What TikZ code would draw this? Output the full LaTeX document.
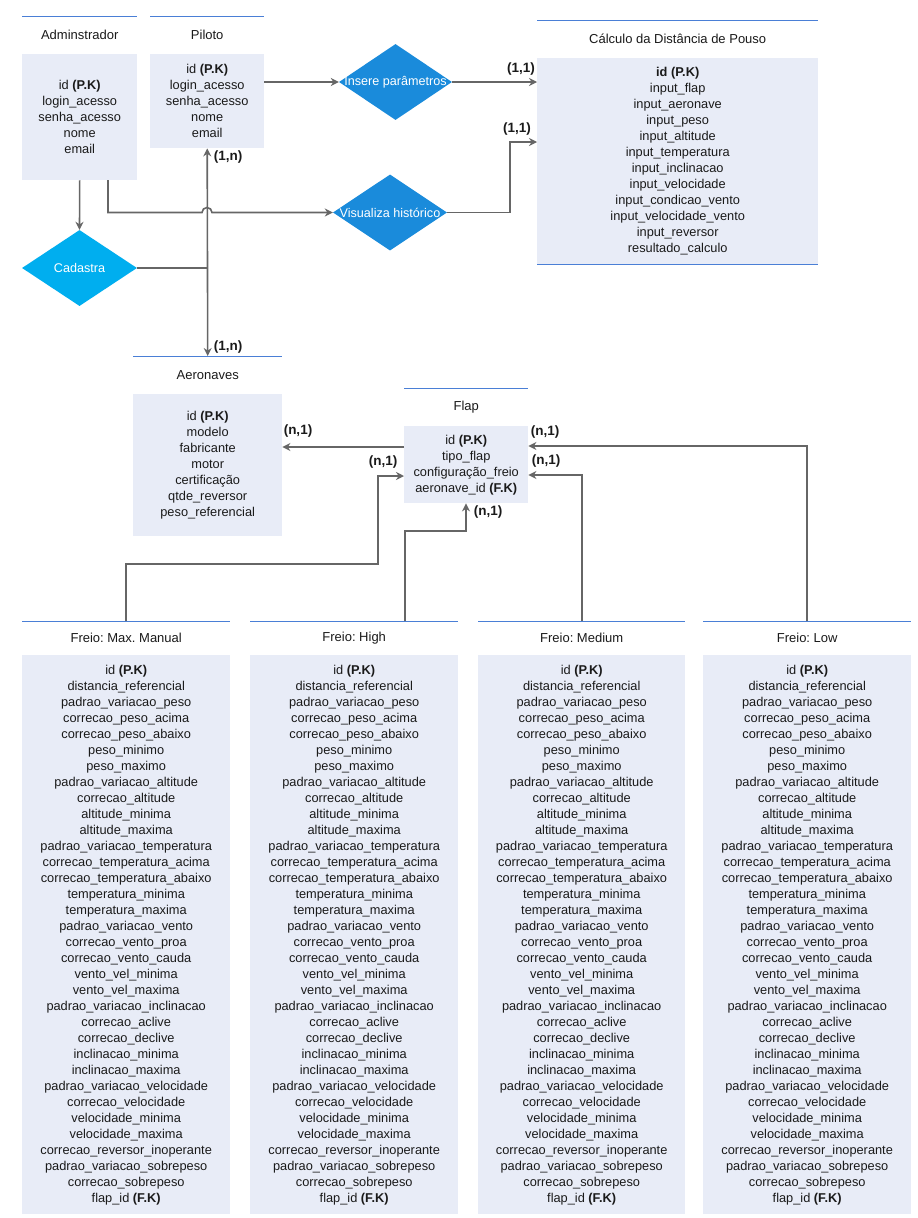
\documentclass[tikz,border=0pt]{standalone}
\usepackage{fontspec}
\setmainfont{Liberation Sans}
\usetikzlibrary{shapes.geometric,arrows.meta}
\frenchspacing
\definecolor{bodyfill}{HTML}{E8ECF7}
\definecolor{hdrline}{HTML}{4A7FD6}
\definecolor{connc}{HTML}{666666}
\definecolor{diamA}{HTML}{1A8BDB}
\definecolor{diamB}{HTML}{00AEEF}
\definecolor{txtc}{HTML}{1A1A1A}
\tikzset{
  every node/.style={font=\fontsize{12.8}{16}\selectfont, text=txtc},
  bodybox/.style={fill=bodyfill, draw=none, anchor=north west, inner sep=0pt, align=center},
  titlebox/.style={draw=none, anchor=north west, inner sep=0pt, align=center, font=\fontsize{13}{16}\selectfont},
  conn/.style={draw=connc, line width=1.6pt, -{Stealth[length=8pt,width=8pt]}},
  plainconn/.style={draw=connc, line width=1.6pt},
  hline/.style={draw=hdrline, line width=1pt},
  relA/.style={shape=diamond, fill=diamA, draw=none, inner sep=0pt},
  relB/.style={shape=diamond, fill=diamB, draw=none, inner sep=0pt},
  reltext/.style={text=white, inner sep=0pt, font=\fontsize{12.6}{15}\selectfont},
  card/.style={font=\fontsize{13.5}{15}\selectfont\bfseries, inner sep=0pt},
}
\newcommand{\hdrlines}[1]{\draw[hline] (#1.north west) -- (#1.north east); \draw[hline] (#1.south west) -- (#1.south east);}
\begin{document}
\begin{tikzpicture}[x=1pt,y=-1pt]
\useasboundingbox[fill=white] (0,0) rectangle (918,1218);

% Adminstrador
\node[titlebox, minimum width=115, minimum height=38] (admT) at (22,16) {Adminstrador};
\hdrlines{admT}
\node[bodybox, minimum width=115, minimum height=126] (admB) at (22,54)
  {id \textbf{(P.K)}\\login\_acesso\\senha\_acesso\\nome\\email};

% Piloto
\node[titlebox, minimum width=114, minimum height=38] (piT) at (150,16) {Piloto};
\hdrlines{piT}
\node[bodybox, minimum width=114, minimum height=94] (piB) at (150,54)
  {id \textbf{(P.K)}\\login\_acesso\\senha\_acesso\\nome\\email};

% Calculo
\node[titlebox, minimum width=281, minimum height=38] (calT) at (537,20) {Cálculo da Distância de Pouso};
\hdrlines{calT}
\node[bodybox, minimum width=281, minimum height=206] (calB) at (537,58)
  {\textbf{id (P.K)}\\input\_flap\\input\_aeronave\\input\_peso\\input\_altitude\\input\_temperatura\\input\_inclinacao\\input\_velocidade\\input\_condicao\_vento\\input\_velocidade\_vento\\input\_reversor\\resultado\_calculo};
\draw[hline] (calB.south west) -- (calB.south east);

% Aeronaves
\node[titlebox, minimum width=149, minimum height=38] (aerT) at (133,356) {Aeronaves};
\hdrlines{aerT}
\node[bodybox, minimum width=149, minimum height=142] (aerB) at (133,394)
  {id \textbf{(P.K)}\\modelo\\fabricante\\motor\\certificação\\qtde\_reversor\\peso\_referencial};

% Flap
\node[titlebox, minimum width=124, minimum height=38] (flT) at (404,388) {Flap};
\hdrlines{flT}
\node[bodybox, minimum width=124, minimum height=77] (flB) at (404,426)
  {id \textbf{(P.K)}\\tipo\_flap\\configuração\_freio\\aeronave\_id \textbf{(F.K)}};

% Freio tables
\newcommand{\freiofields}{id \textbf{(P.K)}\\distancia\_referencial\\padrao\_variacao\_peso\\correcao\_peso\_acima\\correcao\_peso\_abaixo\\peso\_minimo\\peso\_maximo\\padrao\_variacao\_altitude\\correcao\_altitude\\altitude\_minima\\altitude\_maxima\\padrao\_variacao\_temperatura\\correcao\_temperatura\_acima\\correcao\_temperatura\_abaixo\\temperatura\_minima\\temperatura\_maxima\\padrao\_variacao\_vento\\correcao\_vento\_proa\\correcao\_vento\_cauda\\vento\_vel\_minima\\vento\_vel\_maxima\\padrao\_variacao\_inclinacao\\correcao\_aclive\\correcao\_declive\\inclinacao\_minima\\inclinacao\_maxima\\padrao\_variacao\_velocidade\\correcao\_velocidade\\velocidade\_minima\\velocidade\_maxima\\correcao\_reversor\_inoperante\\padrao\_variacao\_sobrepeso\\correcao\_sobrepeso\\flap\_id \textbf{(F.K)}}

\node[titlebox, minimum width=208, minimum height=34] (mmT) at (22,621) {Freio: Max. Manual};
\hdrlines{mmT}
\node[bodybox, minimum width=208, minimum height=559] (mmB) at (22,655) {\freiofields};

\node[titlebox, minimum width=208, minimum height=34] (hiT) at (250,621) {Freio: High};
\hdrlines{hiT}
\node[bodybox, minimum width=208, minimum height=559] (hiB) at (250,655) {\freiofields};

\node[titlebox, minimum width=207, minimum height=34] (meT) at (478,621) {Freio: Medium};
\hdrlines{meT}
\node[bodybox, minimum width=207, minimum height=559] (meB) at (478,655) {\freiofields};

\node[titlebox, minimum width=208, minimum height=34] (loT) at (703,621) {Freio: Low};
\hdrlines{loT}
\node[bodybox, minimum width=208, minimum height=559] (loB) at (703,655) {\freiofields};

% Relationships
\node[relB, minimum width=115, minimum height=76,
      label={[reltext]center:Cadastra}] (cad) at (79.5,268) {};
\node[relA, minimum width=113, minimum height=76,
      label={[reltext]center:Insere parâmetros}] (ins) at (395.5,82) {};
\node[relA, minimum width=114, minimum height=76,
      label={[reltext]center:Visualiza histórico}] (vis) at (390,212.5) {};

% Connectors
\draw[conn] (admB.south) -- (cad.north);
\coordinate (admOut) at (108,180);
\coordinate (hopL) at (202,212.5);
\draw[conn] (admOut) |- (hopL) arc[start angle=180, end angle=0, radius=5pt] -- (vis.west);
\draw[plainconn] (cad.east) -- (cad.east -| piB.south);
\draw[draw=connc, line width=1.6pt, {Stealth[length=8pt,width=8pt]}-{Stealth[length=8pt,width=8pt]}] (piB.south) -- (aerT.north);
\draw[conn] (ins.west -| piB.east) -- (ins.west);
\draw[conn] (ins.east) -- (ins.east -| calB.west);
\coordinate (v1) at (510,142);
\draw[conn] (vis.east) -| (v1) -- (v1 -| calB.west);

\draw[conn] (flB.west |- 0,447) -- (aerB.east |- 0,447);
\coordinate (m1) at (378,564);
\draw[conn] (mmT.north) |- (m1) |- (flB.west |- 0,476);
\coordinate (h1) at (466,531);
\draw[conn] (hiT.north -| 405,0) |- (h1) -- (flB.south -| h1);
\draw[conn] (meT.north) |- (flB.east |- 0,475);
\draw[conn] (loT.north) |- (flB.east |- 0,446);

% Cardinalities
\node[card] at (228,157) {(1,n)};
\node[card] at (228,347) {(1,n)};
\node[card] at (521,69) {(1,1)};
\node[card] at (517,129) {(1,1)};
\node[card] at (298,431) {(n,1)};
\node[card] at (383,462) {(n,1)};
\node[card] at (488,512) {(n,1)};
\node[card] at (545,432) {(n,1)};
\node[card] at (546,461) {(n,1)};
\end{tikzpicture}
\end{document}
